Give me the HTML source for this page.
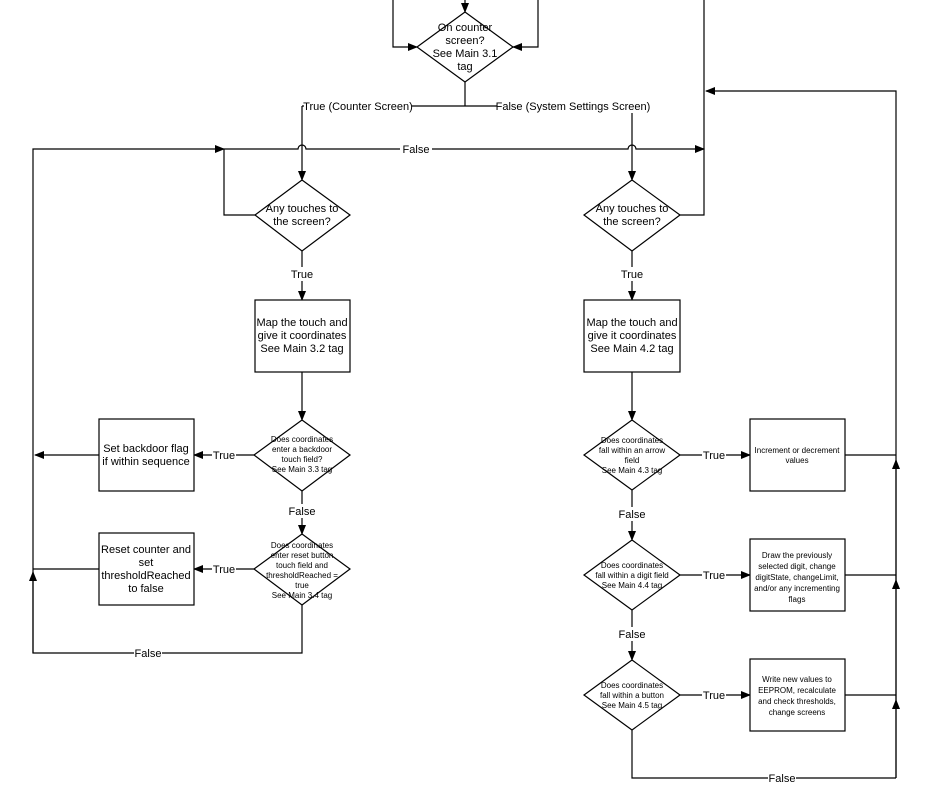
<!DOCTYPE html>
<html><head><meta charset="utf-8"><style>
html,body{margin:0;padding:0;background:#fff;}
svg{display:block;}
text{font-family:"Liberation Sans",Arial,sans-serif;fill:#000;}
.b{font-size:11px;}
.s{font-size:8px;}
.l{font-size:11px;}
</style></head><body>
<svg width="938" height="802" viewBox="0 0 938 802" xmlns="http://www.w3.org/2000/svg">
<defs>
<marker id="a" markerWidth="10" markerHeight="8" refX="9" refY="4" orient="auto" markerUnits="userSpaceOnUse">
<path d="M0,0 L10,4 L0,8 z" fill="#000"/></marker>
</defs>
<g stroke="#000" stroke-width="1.2" fill="none">
<!-- top -->
<line x1="465" y1="0" x2="465" y2="12" marker-end="url(#a)"/>
<polyline points="393,0 393,47 417,47" marker-end="url(#a)"/>
<polyline points="538,0 538,47 513,47" marker-end="url(#a)"/>
<polygon points="465,12 513,47 465,82 417,47" fill="#fff"/>
<line x1="465" y1="82" x2="465" y2="106"/>
<line x1="302" y1="106" x2="632" y2="106"/>
<line x1="302" y1="106" x2="302" y2="180" marker-end="url(#a)"/>
<line x1="632" y1="106" x2="632" y2="180" marker-end="url(#a)"/>
<!-- false line y=149 -->
<polyline points="33,653 33,149 224,149" marker-end="url(#a)"/>
<path d="M224,149 L298,149 A4,4 0 0 1 306,149 L628,149 A4,4 0 0 1 636,149 L704,149" marker-end="url(#a)"/>
<polyline points="255,215 224,215 224,149"/>
<polyline points="680,215 704,215 704,0"/>
<polyline points="896,778 896,91 706,91" marker-end="url(#a)"/>
<!-- left column -->
<polygon points="302,180 350,215 302,251 255,215" fill="#fff"/>
<line x1="302" y1="251" x2="302" y2="300" marker-end="url(#a)"/>
<rect x="255" y="300" width="95" height="72" fill="#fff"/>
<line x1="302" y1="372" x2="302" y2="420" marker-end="url(#a)"/>
<polygon points="302,420 350,455 302,491 254,455" fill="#fff"/>
<line x1="254" y1="455" x2="194" y2="455" marker-end="url(#a)"/>
<rect x="99" y="419" width="95" height="72" fill="#fff"/>
<line x1="99" y1="455" x2="35" y2="455" marker-end="url(#a)"/>
<line x1="302" y1="491" x2="302" y2="534" marker-end="url(#a)"/>
<polygon points="302,534 350,569 302,605 254,569" fill="#fff"/>
<line x1="254" y1="569" x2="194" y2="569" marker-end="url(#a)"/>
<rect x="99" y="533" width="95" height="72" fill="#fff"/>
<line x1="99" y1="569" x2="33" y2="569"/>
<polyline points="302,605 302,653 33,653 33,572" marker-end="url(#a)"/>
<!-- right column -->
<polygon points="632,180 680,215 632,251 584,215" fill="#fff"/>
<line x1="632" y1="251" x2="632" y2="300" marker-end="url(#a)"/>
<rect x="584" y="300" width="96" height="72" fill="#fff"/>
<line x1="632" y1="372" x2="632" y2="420" marker-end="url(#a)"/>
<polygon points="632,420 680,455 632,490 584,455" fill="#fff"/>
<line x1="680" y1="455" x2="750" y2="455" marker-end="url(#a)"/>
<rect x="750" y="419" width="95" height="72" fill="#fff"/>
<polyline points="845,455 896,455"/>
<line x1="632" y1="490" x2="632" y2="540" marker-end="url(#a)"/>
<polygon points="632,540 680,575 632,610 584,575" fill="#fff"/>
<line x1="680" y1="575" x2="750" y2="575" marker-end="url(#a)"/>
<rect x="750" y="539" width="95" height="72" fill="#fff"/>
<polyline points="845,575 896,575"/>
<line x1="632" y1="610" x2="632" y2="660" marker-end="url(#a)"/>
<polygon points="632,660 680,695 632,730 584,695" fill="#fff"/>
<line x1="680" y1="695" x2="750" y2="695" marker-end="url(#a)"/>
<rect x="750" y="659" width="95" height="72" fill="#fff"/>
<polyline points="845,695 896,695"/>
<polyline points="632,730 632,778 896,778"/>
<line x1="896" y1="778" x2="896" y2="700" marker-end="url(#a)"/>
<line x1="896" y1="700" x2="896" y2="580" marker-end="url(#a)"/>
<line x1="896" y1="580" x2="896" y2="460" marker-end="url(#a)"/>
</g>
<!-- label backgrounds -->
<g fill="#fff">
<rect x="304" y="99" width="108" height="14"/>
<rect x="497" y="99" width="152" height="14"/>
<rect x="400" y="142" width="32" height="14"/>
<rect x="288" y="267" width="28" height="14"/>
<rect x="618" y="267" width="28" height="14"/>
<rect x="212" y="448" width="24" height="14"/>
<rect x="212" y="562" width="24" height="14"/>
<rect x="288" y="504" width="28" height="14"/>
<rect x="134" y="646" width="28" height="14"/>
<rect x="702" y="448" width="24" height="14"/>
<rect x="702" y="568" width="24" height="14"/>
<rect x="702" y="688" width="24" height="14"/>
<rect x="618" y="507" width="28" height="14"/>
<rect x="618" y="627" width="28" height="14"/>
<rect x="768" y="771" width="28" height="14"/>
</g>
<g class="l" text-anchor="middle">
<text x="358" y="110">True (Counter Screen)</text>
<text x="573" y="110">False (System Settings Screen)</text>
<text x="416" y="153">False</text>
<text x="302" y="278">True</text>
<text x="632" y="278">True</text>
<text x="224" y="459">True</text>
<text x="224" y="573">True</text>
<text x="302" y="515">False</text>
<text x="148" y="657">False</text>
<text x="714" y="459">True</text>
<text x="714" y="579">True</text>
<text x="714" y="699">True</text>
<text x="632" y="518">False</text>
<text x="632" y="638">False</text>
<text x="782" y="782">False</text>
</g>
<g class="b" text-anchor="middle">
<text x="465" y="31">On counter</text><text x="465" y="44">screen?</text><text x="465" y="57">See Main 3.1</text><text x="465" y="70">tag</text>
<text x="302" y="212">Any touches to</text><text x="302" y="225">the screen?</text>
<text x="632" y="212">Any touches to</text><text x="632" y="225">the screen?</text>
<text x="302" y="326">Map the touch and</text><text x="302" y="339">give it coordinates</text><text x="302" y="352">See Main 3.2 tag</text>
<text x="632" y="326">Map the touch and</text><text x="632" y="339">give it coordinates</text><text x="632" y="352">See Main 4.2 tag</text>
<text x="146" y="452">Set backdoor flag</text><text x="146" y="465">if within sequence</text>
<text x="146" y="553">Reset counter and</text><text x="146" y="566">set</text><text x="146" y="579">thresholdReached</text><text x="146" y="592">to false</text>
</g>
<g class="s" text-anchor="middle">
<text x="302" y="442">Does coordinates</text><text x="302" y="452">enter a backdoor</text><text x="302" y="462">touch field?</text><text x="302" y="472">See Main 3.3 tag</text>
<text x="302" y="548">Does coordinates</text><text x="302" y="558">enter reset button</text><text x="302" y="568">touch field and</text><text x="302" y="578">thresholdReached =</text><text x="302" y="588">true</text><text x="302" y="598">See Main 3.4 tag</text>
<text x="632" y="443">Does coordinates</text><text x="632" y="453">fall within an arrow</text><text x="632" y="463">field</text><text x="632" y="473">See Main 4.3 tag</text>
<text x="632" y="568">Does coordinates</text><text x="632" y="578">fall within a digit field</text><text x="632" y="588">See Main 4.4 tag</text>
<text x="632" y="688">Does coordinates</text><text x="632" y="698">fall within a button</text><text x="632" y="708">See Main 4.5 tag</text>
<text x="797" y="453">Increment or decrement</text><text x="797" y="463">values</text>
<text x="797" y="558">Draw the previously</text><text x="797" y="569">selected digit, change</text><text x="797" y="580">digitState, changeLimit,</text><text x="797" y="591">and/or any incrementing</text><text x="797" y="602">flags</text>
<text x="797" y="682">Write new values to</text><text x="797" y="693">EEPROM, recalculate</text><text x="797" y="704">and check thresholds,</text><text x="797" y="715">change screens</text>
</g>
</svg>
</body></html>
